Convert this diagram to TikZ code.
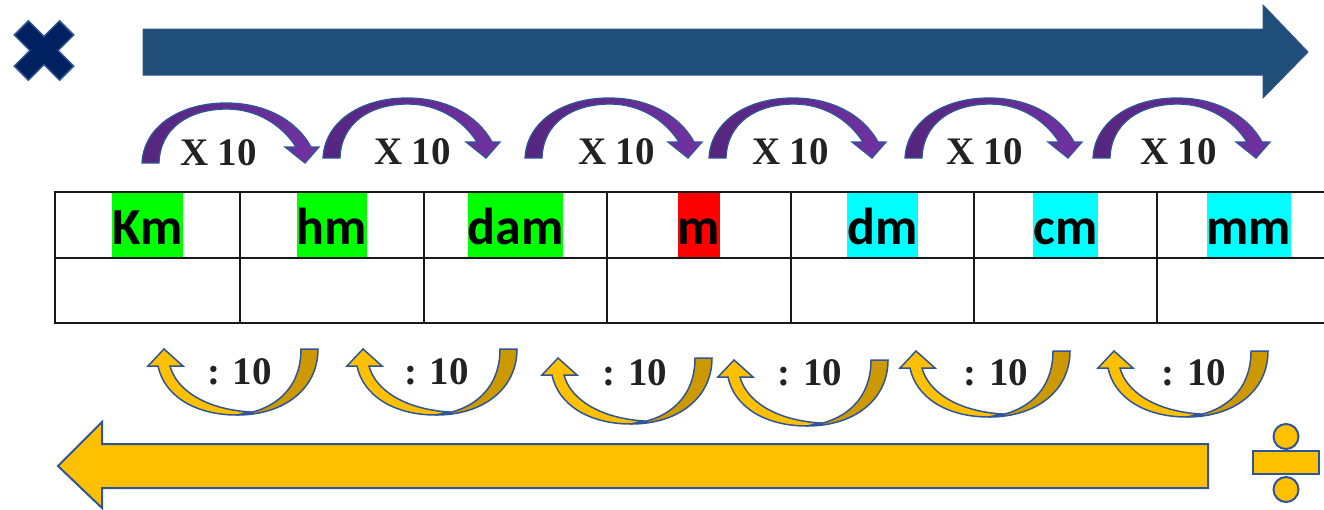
\documentclass[tikz,border=0pt]{standalone}
\usepackage{fontspec}
\newfontfamily\labfont{Carlito}
\newfontfamily\serfont{Liberation Serif}
\definecolor{bordblue}{RGB}{47,85,151}
\definecolor{navyx}{RGB}{0,32,96}
\definecolor{bigblue}{RGB}{31,78,121}
\definecolor{purpD}{RGB}{84,38,126}
\definecolor{purpL}{RGB}{114,50,162}
\definecolor{gold}{RGB}{255,192,0}
\definecolor{goldD}{RGB}{204,153,0}
\definecolor{txtgray}{RGB}{34,34,34}
\begin{document}
\begin{tikzpicture}[x=1pt,y=-1pt,
  unitlab/.style={font=\labfont\bfseries\fontsize{52}{60}\selectfont, text=black, inner xsep=0pt, inner ysep=0pt, text height=52pt, text depth=14pt, anchor=base},
  oplab/.style={font=\serfont\bfseries\fontsize{39}{44}\selectfont, text=txtgray, inner sep=0pt, anchor=base},
  gridline/.style={draw=black!90, line width=2pt},
  toparr/.pic={\path[draw=bordblue, line width=1.3pt, left color=purpD, right color=purpL]
    (0,0) .. controls (2,-38) and (40,-60) .. (84,-60) .. controls (124,-60) and (155,-42) .. (169,-16)
    -- (177,-16) -- (163,0) -- (143,-16) -- (154,-16)
    .. controls (140,-38) and (115,-54) .. (85,-54) .. controls (47,-54) and (18,-35) .. (17,0) -- cycle;},
  botarr/.pic={
    \path[draw=bordblue, line width=1.5pt, fill=goldD]
      (154,0) .. controls (154,40) and (120,66) .. (73,66) .. controls (110,62) and (137,40) .. (137,0) -- cycle;
    \path[draw=bordblue, line width=1.5pt, fill=gold]
      (0,0) -- (19,17) -- (6,17) .. controls (12,40) and (40,60) .. (86,63) -- (73,66)
      .. controls (30,66) and (0,46) .. (-6,17) -- (-16,17) -- cycle;}
]
\useasboundingbox (0,0) rectangle (1324,509);

% multiplication sign
\begin{scope}[shift={(44,50.5)}, rotate=45]
  \path[draw=bordblue, line width=1.5pt, fill=navyx]
   (-10,-32) -- (10,-32) -- (10,-10) -- (32,-10) -- (32,10) -- (10,10) -- (10,32)
   -- (-10,32) -- (-10,10) -- (-32,10) -- (-32,-10) -- (-10,-10) -- cycle;
\end{scope}

% big top arrow
\path[draw=bordblue, line width=1pt, fill=bigblue]
  (143,29) -- (1263,29) -- (1263,5) -- (1308,52) -- (1263,98) -- (1263,75) -- (143,75) -- cycle;

% curved multiply arrows
\pic at (142,163) {toparr};
\pic at (323,158) {toparr};
\pic at (525,158) {toparr};
\pic at (709,158) {toparr};
\pic at (905,158) {toparr};
\pic at (1093,158) {toparr};

\node[oplab] (m1) at (218.5,165) {X 10};
\node[oplab] (m2) at (412.5,164) {X 10};
\node[oplab] (m3) at (616.5,164) {X 10};
\node[oplab] (m4) at (790.5,164) {X 10};
\node[oplab] (m5) at (984.5,164) {X 10};
\node[oplab] (m6) at (1178.5,164) {X 10};

% unit labels (highlighted)
\node[unitlab, fill={rgb,255:red,0;green,255;blue,0}] (km) at (147.5,244) {Km};
\node[unitlab, fill={rgb,255:red,0;green,255;blue,0}] (hm) at (332,244) {hm};
\node[unitlab, fill={rgb,255:red,0;green,255;blue,0}] (dam) at (515.5,244) {dam};
\node[unitlab, fill={rgb,255:red,255;green,0;blue,0}] (mu) at (699,244) {m};
\node[unitlab, fill={rgb,255:red,0;green,255;blue,255}] (dm) at (882.5,244) {dm};
\node[unitlab, fill={rgb,255:red,0;green,255;blue,255}] (cm) at (1065.5,244) {cm};
\node[unitlab, fill={rgb,255:red,0;green,255;blue,255}] (mm) at (1249,244) {mm};

% table
\foreach \yy in {192,258,323} \draw[gridline] (54,\yy) -- (1324,\yy);
\foreach \xx in {55,240,424,607,791,974,1157} \draw[gridline] (\xx,192) -- (\xx,323);

% curved divide arrows
\pic at (164,349) {botarr};
\pic at (363,349) {botarr};
\pic at (558,358) {botarr};
\pic at (734,360) {botarr};
\pic at (916,351) {botarr};
\pic at (1114,351) {botarr};

\node[oplab] (d1) at (239.5,384) {: 10};
\node[oplab] (d2) at (436.5,384) {: 10};
\node[oplab] (d3) at (635,385) {: 10};
\node[oplab] (d4) at (810,385) {: 10};
\node[oplab] (d5) at (996,385) {: 10};
\node[oplab] (d6) at (1194,385) {: 10};

% big bottom arrow
\path[draw=bordblue, line width=2pt, fill=gold]
  (1208,444) -- (102,444) -- (102,422) -- (58,466) -- (102,508) -- (102,488) -- (1208,488) -- cycle;

% division sign
\path[draw=bordblue, line width=2pt, fill=gold] (1253,451) rectangle (1319,474);
\path[draw=bordblue, line width=2pt, fill=gold] (1286,436.5) circle (12.5);
\path[draw=bordblue, line width=2pt, fill=gold] (1286,489.5) circle (12.5);
\end{tikzpicture}
\end{document}
